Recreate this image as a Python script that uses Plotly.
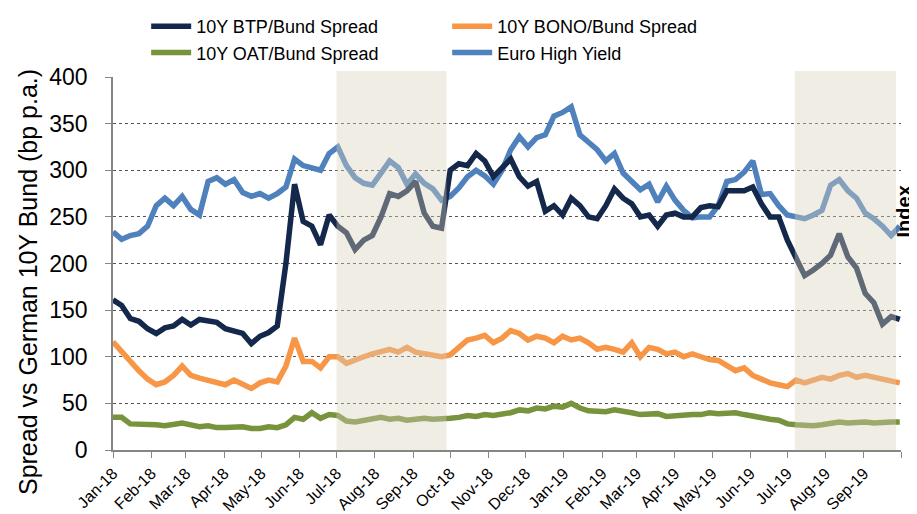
import pandas as pd
import plotly.graph_objects as go

dates = pd.date_range("2018-01-01", periods=92, freq="7D")

btp = [161, 155, 141, 138, 130, 125, 131, 133, 140, 134,
       140, 138, 137, 130, 128, 125, 114, 122, 126, 133,
       200, 285, 245, 240, 220, 252, 240, 233, 215, 225,
       230, 250, 275, 272, 278, 288, 254, 240, 238, 300,
       307, 305, 318, 310, 293, 302, 312, 293, 283, 288,
       256, 262, 252, 270, 262, 250, 248, 262, 280, 270,
       264, 250, 252, 240, 252, 254, 250, 250, 260, 262,
       261, 278, 278, 278, 282, 264, 250, 250, 225, 207,
       187, 193, 200, 209, 232, 207, 195, 168, 158, 135,
       143, 140]

bono = [116, 105, 95, 85, 76, 70, 73, 80, 90, 80,
        77, 75, 72, 70, 75, 70, 66, 72, 75, 73,
        90, 120, 95, 95, 88, 100, 100, 93, 97, 100,
        103, 105, 108, 105, 110, 105, 103, 102, 100, 102,
        110, 118, 120, 123, 115, 120, 128, 125, 118, 122,
        120, 115, 122, 118, 120, 115, 108, 110, 108, 105,
        115, 100, 110, 108, 103, 105, 100, 103, 100, 97,
        96, 90, 85, 88, 80, 76, 72, 70, 68, 75,
        72, 75, 78, 76, 80, 82, 78, 80, 78, 75,
        73, 72]

oat = [35, 35, 28, 28, 28, 27, 26, 27, 29, 27,
       25, 26, 24, 24, 24, 25, 23, 23, 25, 24,
       27, 35, 33, 40, 34, 38, 37, 31, 30, 32,
       34, 35, 33, 34, 32, 33, 34, 33, 33, 34,
       35, 37, 36, 38, 37, 38, 40, 43, 42, 45,
       44, 47, 46, 50, 45, 42, 42, 41, 43, 42,
       40, 38, 38, 39, 36, 37, 37, 38, 38, 40,
       39, 40, 40, 38, 36, 35, 33, 32, 28, 27,
       26, 26, 27, 28, 30, 29, 30, 30, 29, 30,
       30, 30]

ehy = [234, 226, 230, 232, 240, 262, 270, 262, 272, 258,
       252, 288, 292, 285, 290, 276, 272, 275, 270, 275,
       282, 312, 305, 302, 300, 318, 325, 305, 292, 286,
       284, 297, 310, 303, 285, 296, 286, 280, 268, 272,
       281, 293, 300, 294, 285, 300, 322, 336, 325, 335,
       338, 358, 362, 368, 338, 330, 322, 310, 318, 297,
       287, 279, 285, 266, 283, 268, 257, 249, 250, 250,
       262, 288, 290, 298, 310, 274, 275, 262, 252, 250,
       248, 252, 257, 284, 290, 278, 270, 254, 248, 240,
       230, 240]

tick_dates = pd.date_range("2018-01-01", "2019-10-01", freq="MS")
tick_labels = ["Jan-18", "Feb-18", "Mar-18", "Apr-18", "May-18", "Jun-18",
               "Jul-18", "Aug-18", "Sep-18", "Oct-18", "Nov-18", "Dec-18",
               "Jan-19", "Feb-19", "Mar-19", "Apr-19", "May-19", "Jun-19",
               "Jul-19", "Aug-19", "Sep-19", ""]

# highlighted periods
periods = [("2018-07-01", "2018-09-28"), ("2019-07-07", "2019-09-27")]

FONT = "Liberation Sans, Arial, sans-serif"

fig = go.Figure()
# drawing order: EHY underneath, spreads on top; legend order set by legendrank
fig.add_trace(go.Scatter(x=dates, y=ehy, mode="lines", name="Euro High Yield",
                         line=dict(color="#4F81BD", width=5.5), legendrank=4))
fig.add_trace(go.Scatter(x=dates, y=btp, mode="lines", name="10Y BTP/Bund Spread",
                         line=dict(color="#14284B", width=5.5), legendrank=1))
fig.add_trace(go.Scatter(x=dates, y=bono, mode="lines", name="10Y BONO/Bund Spread",
                         line=dict(color="#F79646", width=5.5), legendrank=2))
fig.add_trace(go.Scatter(x=dates, y=oat, mode="lines", name="10Y OAT/Bund Spread",
                         line=dict(color="#77933C", width=5.5), legendrank=3))

for x0, x1 in periods:
    fig.add_shape(type="rect", xref="x", yref="paper", x0=x0, x1=x1, y0=0, y1=1.016,
                  fillcolor="rgba(216,209,189,0.39)", line_width=0, layer="above")

# axis titles as annotations so they can sit where the reference has them
fig.add_annotation(text="Spread vs German 10Y Bund (bp p.a.)", textangle=-90,
                   xref="paper", yref="paper", x=-0.108, xanchor="center",
                   y=0.45, yanchor="middle", showarrow=False,
                   font=dict(family=FONT, size=25, color="black"))
fig.add_annotation(text="<b>Index</b>", textangle=-90, xref="paper", yref="paper",
                   x=1.004, xanchor="center", y=0.64, yanchor="middle", showarrow=False,
                   font=dict(family=FONT, size=20, color="black"))

# the page body adds an 8px offset, so the figure is 8px smaller than the window
fig.update_layout(
    width=909, height=506,
    margin=dict(l=105, r=16, t=69, b=64, autoexpand=False),
    plot_bgcolor="white", paper_bgcolor="white",
    font=dict(family=FONT, color="black"),
    legend=dict(orientation="h", xref="container", yref="container",
                x=0.152, xanchor="left", y=1.0, yanchor="top",
                entrywidth=246, font=dict(size=18), traceorder="normal",
                itemwidth=40, tracegroupgap=0, bgcolor="rgba(0,0,0,0)"),
    showlegend=True,
)
fig.update_xaxes(type="date", range=["2018-01-01", "2019-10-01"],
                 tickvals=tick_dates, ticktext=tick_labels, tickangle=-45,
                 tickfont=dict(size=16), ticks="outside", ticklen=6,
                 tickcolor="#868686", showline=True, linecolor="#868686",
                 linewidth=1.5, showgrid=False, zeroline=False, automargin=False)
fig.update_yaxes(range=[0, 400], dtick=50, tickfont=dict(size=23),
                 ticks="outside", ticklen=6, ticklabelstandoff=13,
                 tickcolor="#868686",
                 showline=True, linecolor="#868686", linewidth=1.5,
                 showgrid=True, gridcolor="#555555", griddash="dot", gridwidth=1,
                 zeroline=False, automargin=False)

fig.write_html("out.html")
